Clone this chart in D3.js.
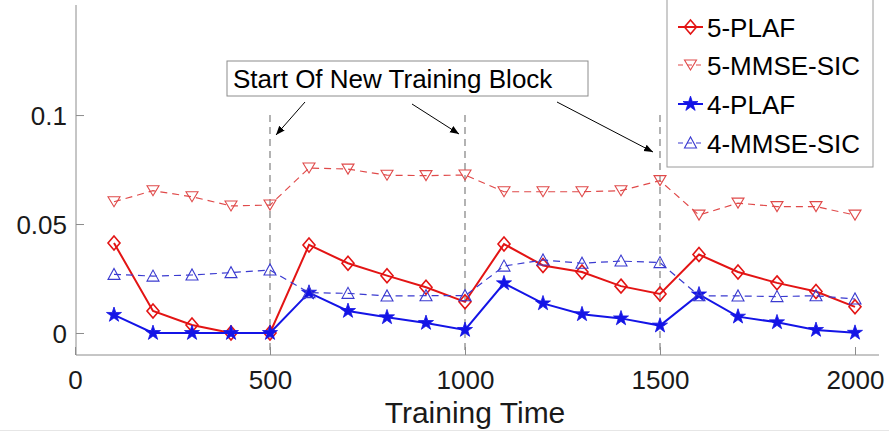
<!DOCTYPE html>
<html><head><meta charset="utf-8">
<script src="https://cdn.jsdelivr.net/npm/d3@7/dist/d3.min.js"></script>
<style>body{margin:0;background:#fff}svg{display:block;font-family:"Liberation Sans",Arial,sans-serif}</style>
</head><body><svg id="c" width="889" height="432"></svg>
<script>
const trainingTime = [100,200,300,400,500,600,700,800,900,1000,1100,1200,1300,1400,1500,1600,1700,1800,1900,2000];
const plaf5 = [0.0413,0.0101,0.0037,0,0,0.0404,0.032,0.0263,0.021,0.0143,0.0408,0.031,0.028,0.0215,0.0179,0.036,0.028,0.023,0.019,0.012];
const mmse5 = [0.0602,0.0653,0.0625,0.0583,0.0587,0.0757,0.0752,0.0724,0.0722,0.0725,0.0648,0.0648,0.0648,0.0653,0.0699,0.0541,0.0596,0.058,0.058,0.0541];
const plaf4 = [0.0083,0,0,0,0,0.0185,0.0101,0.0072,0.0046,0.0014,0.0228,0.0136,0.0086,0.0067,0.0034,0.0177,0.0075,0.0049,0.0014,0.0001];
const mmse4 = [0.0269,0.0261,0.0266,0.0277,0.0289,0.0185,0.0182,0.017,0.0171,0.0171,0.0307,0.0335,0.032,0.033,0.0323,0.0171,0.017,0.0167,0.0171,0.0156];
const seriesNames = ["5-PLAF","5-MMSE-SIC","4-PLAF","4-MMSE-SIC"];
const xTicks = [0,500,1000,1500,2000];
const yTicks = [0,0.05,0.1];
const blockStarts = [500,1000,1500];
const annotationText = "Start Of New Training Block";
const xLabel = "Training Time";

const svg = d3.select("#c");
const x = d3.scaleLinear().domain([0,2000]).range([75,855]);
const y = d3.scaleLinear().domain([-0.0101,0.1505]).range([355,5]);
const axisCol = "#8c8c8c";

// axes
const gx = svg.append("g").attr("transform","translate(0,355)")
  .call(d3.axisTop(x).tickValues(xTicks).tickSize(8).tickFormat(d3.format("d")));
gx.select(".domain").attr("stroke",axisCol).attr("d","M76,0H879");
gx.selectAll(".tick line").attr("stroke",axisCol);
gx.selectAll(".tick text").attr("y",34).attr("dy",0).attr("font-size",26).attr("fill","#1a1a1a").attr("font-family","Liberation Sans, Arial");

const gy = svg.append("g").attr("transform","translate(76,0)")
  .call(d3.axisRight(y).tickValues(yTicks).tickSize(8).tickFormat(d=>d===0?"0":String(d)));
gy.select(".domain").attr("stroke",axisCol).attr("d","M0,5V355");
gy.selectAll(".tick line").attr("stroke",axisCol);
gy.selectAll(".tick text").attr("x",-9).attr("text-anchor","end").attr("dy","0.35em").attr("font-size",26).attr("fill","#1a1a1a").attr("font-family","Liberation Sans, Arial");

// block start dashed lines
svg.append("g").selectAll("line").data(blockStarts).join("line")
  .attr("x1",d=>x(d)).attr("x2",d=>x(d)).attr("y1",y(0.1)).attr("y2",y(-0.0101))
  .attr("stroke","#8a8a8a").attr("stroke-width",1.3).attr("stroke-dasharray","7,5");

// markers
function diamond(g,c){g.append("path").attr("d","M0,-7L6,0L0,7L-6,0Z").attr("fill","none").attr("stroke",c).attr("stroke-width",1.6);}
function triDown(g,c){g.append("path").attr("d","M-6,-5L6,-5L0,5Z").attr("fill","none").attr("stroke",c).attr("stroke-width",1.1);}
function triUp(g,c){g.append("path").attr("d","M-6,5L6,5L0,-6Z").attr("fill","none").attr("stroke",c).attr("stroke-width",1.1);}
function star(g,c){g.append("path").attr("d",d3.symbol(d3.symbolStar,70)()).attr("fill",c).attr("stroke",c).attr("stroke-width",0.8);}

const series = [
  {name:seriesNames[0], vals:plaf5, color:"#e31414", width:2, dash:null, mk:diamond},
  {name:seriesNames[1], vals:mmse5, color:"#e04a4a", width:1.2, dash:"7,5", mk:triDown},
  {name:seriesNames[2], vals:plaf4, color:"#1414e6", width:2, dash:null, mk:star},
  {name:seriesNames[3], vals:mmse4, color:"#3a3ad0", width:1.2, dash:"7,5", mk:triUp}
];
const line = d3.line().x(d=>x(d[0])).y(d=>y(d[1]));
series.forEach(s=>{
  const pts = trainingTime.map((t,i)=>[t,s.vals[i]]);
  const g = svg.append("g");
  g.append("path").attr("d",line(pts)).attr("fill","none").attr("stroke",s.color)
   .attr("stroke-width",s.width).attr("stroke-dasharray",s.dash);
  pts.forEach(p=>{ s.mk(g.append("g").attr("transform",`translate(${x(p[0])},${y(p[1])})`), s.color); });
});

// annotation
svg.append("defs").append("marker").attr("id","ah").attr("viewBox","0 0 10 10")
  .attr("refX",10).attr("refY",5).attr("markerWidth",9).attr("markerHeight",9)
  .attr("markerUnits","userSpaceOnUse").attr("orient","auto")
  .append("path").attr("d","M0,1L10,5L0,9Z").attr("fill","#000");
const ann = svg.append("g");
ann.append("rect").attr("x",227).attr("y",61).attr("width",361).attr("height",35)
  .attr("fill","#fff").attr("stroke","#8c8c8c").attr("stroke-width",1);
ann.append("text").attr("x",233).attr("y",88).attr("font-size",26).attr("fill","#000").text(annotationText);
const arrows = [[305,102,276,135],[412,104,459,134],[557,102,653,152]];
ann.selectAll("line").data(arrows).join("line")
  .attr("x1",d=>d[0]).attr("y1",d=>d[1]).attr("x2",d=>d[2]).attr("y2",d=>d[3])
  .attr("stroke","#000").attr("stroke-width",1).attr("marker-end","url(#ah)");

// legend
const lg = svg.append("g");
lg.append("rect").attr("x",667).attr("y",-2).attr("width",206).attr("height",169)
  .attr("fill","#fff").attr("stroke","#9a9a9a").attr("stroke-width",1);
const ly = [27,65,104,143];
series.forEach((s,i)=>{
  const g = lg.append("g").attr("transform",`translate(0,${ly[i]})`);
  g.append("line").attr("x1",678).attr("x2",703).attr("y1",0).attr("y2",0)
   .attr("stroke",s.color).attr("stroke-width",s.width).attr("stroke-dasharray",s.dash?"5,4":null);
  s.mk(g.append("g").attr("transform","translate(690.5,0)"), s.color);
  g.append("text").attr("x",707).attr("y",9.5).attr("font-size",26).attr("fill","#000").text(s.name);
});

// x label
svg.append("text").attr("x",475).attr("y",423).attr("text-anchor","middle")
  .attr("font-size",30).attr("fill","#1a1a1a").text(xLabel);
svg.append("line").attr("x1",0).attr("x2",889).attr("y1",430.5).attr("y2",430.5).attr("stroke","#e6e6e6");
</script></body></html>
